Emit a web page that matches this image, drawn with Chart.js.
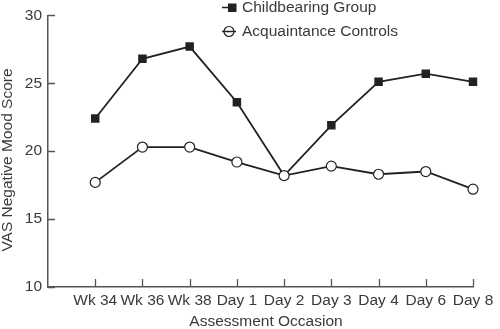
<!DOCTYPE html>
<html lang="en">
<head>
<meta charset="UTF-8">
<title>VAS Negative Mood Score</title>
<script src="https://cdn.jsdelivr.net/npm/chart.js@4.4.0/dist/chart.umd.min.js"></script>
<style>
    html, body { margin: 0; padding: 0; background: #fff; }
    #wrap { width: 500px; height: 329px; position: relative; }
</style>
</head>
<body>
<div id="wrap"><canvas id="moodChart" width="500" height="329"></canvas></div>
<script>
    const occasions = ['Wk 34', 'Wk 36', 'Wk 38', 'Day 1', 'Day 2', 'Day 3', 'Day 4', 'Day 6', 'Day 8'];
    const childbearing = [22.4, 26.8, 27.7, 23.6, 18.2, 21.9, 25.1, 25.7, 25.1];
    const controls = [17.7, 20.3, 20.3, 19.2, 18.2, 18.9, 18.3, 18.5, 17.2];
    const yTicks = [10, 15, 20, 25, 30];

    const ink = '#222';
    const axisColor = '#555';
    const textColor = '#3a3a3a';
    const font = '"Liberation Sans", Arial, sans-serif';
    const fontSize = 15.5;

    // leading empty slot so the first category sits one step right of the y axis
    const labels = [''].concat(occasions);

    const extras = {
        id: 'extras',
        afterDraw(chart) {
            const ctx = chart.ctx;
            const x = chart.scales.x;
            const y = chart.scales.y;
            const area = chart.chartArea;
            ctx.save();
            // inward tick marks
            ctx.strokeStyle = axisColor;
            ctx.lineWidth = 1.3;
            ctx.beginPath();
            yTicks.forEach(v => {
                const py = Math.round(y.getPixelForValue(v)) + 0.5;
                ctx.moveTo(area.left, py);
                ctx.lineTo(area.left + 7, py);
            });
            occasions.forEach((c, i) => {
                const px = Math.round(x.getPixelForValue(i + 1)) + 0.5;
                ctx.moveTo(px, area.bottom);
                ctx.lineTo(px, area.bottom - 8);
            });
            ctx.stroke();

            // axis titles
            ctx.fillStyle = textColor;
            ctx.font = fontSize + 'px ' + font;
            ctx.textAlign = 'center';
            ctx.textBaseline = 'middle';
            ctx.fillText('Assessment Occasion', 266, 322);
            ctx.translate(8, 160);
            ctx.rotate(-Math.PI / 2);
            ctx.fillText('VAS Negative Mood Score', 0, 0);
            ctx.restore();

            // legend
            ctx.save();
            ctx.strokeStyle = ink;
            ctx.lineWidth = 1.5;
            ctx.beginPath();
            ctx.moveTo(222, 7.5);
            ctx.lineTo(230, 7.5);
            ctx.stroke();
            ctx.fillStyle = ink;
            ctx.fillRect(228, 3.5, 8.5, 8.5);
            ctx.beginPath();
            ctx.moveTo(222, 31.5);
            ctx.lineTo(236, 31.5);
            ctx.stroke();
            ctx.lineWidth = 1.2;
            ctx.beginPath();
            ctx.arc(229, 31.5, 5, 0, Math.PI * 2);
            ctx.stroke();
            ctx.fillStyle = textColor;
            ctx.font = fontSize + 'px ' + font;
            ctx.textAlign = 'left';
            ctx.textBaseline = 'middle';
            ctx.fillText('Childbearing Group', 242, 8);
            ctx.fillText('Acquaintance Controls', 242, 32);
            ctx.restore();
        }
    };

    new Chart(document.getElementById('moodChart').getContext('2d'), {
        type: 'line',
        data: {
            labels: labels,
            datasets: [{
                label: 'Acquaintance Controls',
                data: [null].concat(controls),
                borderColor: ink,
                borderWidth: 1.8,
                pointStyle: 'circle',
                pointRadius: 5,
                pointBackgroundColor: '#fff',
                pointBorderColor: ink,
                pointBorderWidth: 1.2,
                tension: 0
            }, {
                label: 'Childbearing Group',
                data: [null].concat(childbearing),
                borderColor: ink,
                borderWidth: 1.8,
                pointStyle: 'rect',
                pointRadius: 6,
                pointBackgroundColor: ink,
                pointBorderColor: ink,
                pointBorderWidth: 0,
                tension: 0
            }]
        },
        options: {
            responsive: false,
            animation: false,
            layout: { padding: { top: 14, right: 27, left: 0, bottom: 0 } },
            plugins: {
                legend: { display: false },
                tooltip: { enabled: false }
            },
            scales: {
                x: {
                    type: 'category',
                    offset: false,
                    grid: { display: false, drawTicks: false },
                    border: { display: true, color: axisColor, width: 1.5 },
                    ticks: {
                        autoSkip: false,
                        maxRotation: 0,
                        color: textColor,
                        font: { family: font, size: fontSize },
                        padding: 4
                    },
                    afterFit(scale) { scale.height = 42; }
                },
                y: {
                    min: 10,
                    max: 30,
                    grid: { display: false, drawTicks: false },
                    border: { display: true, color: axisColor, width: 1.5 },
                    ticks: {
                        stepSize: 5,
                        color: textColor,
                        font: { family: font, size: fontSize },
                        padding: 6
                    },
                    afterFit(scale) { scale.width = 48; }
                }
            }
        },
        plugins: [extras]
    });
</script>
</body>
</html>
